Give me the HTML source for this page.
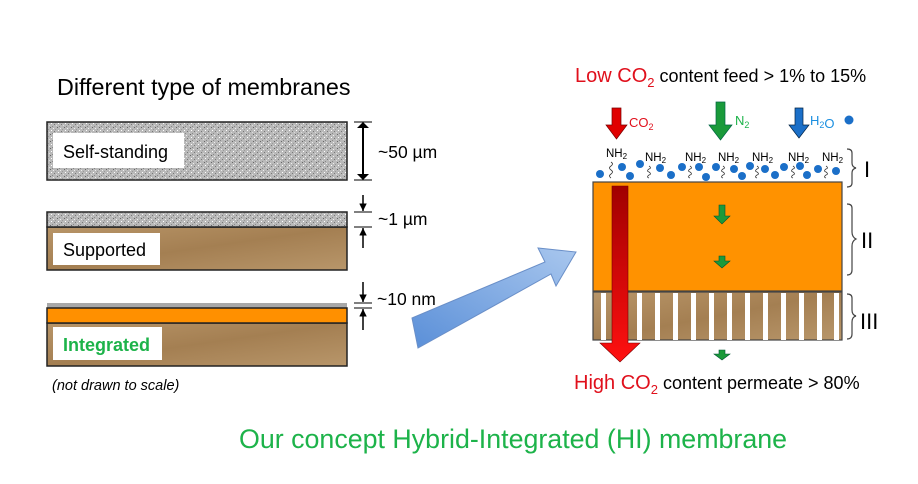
<!DOCTYPE html>
<html><head><meta charset="utf-8"><style>body{margin:0;background:#fff}svg{display:block}text{font-family:"Liberation Sans",sans-serif}</style></head><body>
<svg width="918" height="484" viewBox="0 0 918 484" xmlns="http://www.w3.org/2000/svg">
<defs>
<pattern id="gp" width="7" height="7" patternUnits="userSpaceOnUse">
<rect width="7" height="7" fill="#b9b9b9"/>
<rect x="1" y="1" width="1" height="1" fill="#666"/><rect x="4" y="2" width="1" height="1" fill="#eee"/><rect x="2" y="4" width="1" height="1" fill="#fff"/><rect x="5" y="5" width="1" height="1" fill="#777"/><rect x="0" y="6" width="1" height="1" fill="#ddd"/><rect x="3" y="0" width="1" height="1" fill="#888"/><rect x="6" y="3" width="1" height="1" fill="#999"/>
</pattern>
<linearGradient id="br" x1="0" y1="0" x2="1" y2="1"><stop offset="0" stop-color="#b89568"/><stop offset="0.5" stop-color="#a47f52"/><stop offset="1" stop-color="#b8966a"/></linearGradient>
<linearGradient id="red" x1="0" y1="0" x2="0" y2="1"><stop offset="0" stop-color="#a00000"/><stop offset="1" stop-color="#ff1010"/></linearGradient>
<linearGradient id="bl" x1="0" y1="1" x2="1" y2="0"><stop offset="0" stop-color="#5a8fd8"/><stop offset="1" stop-color="#a9c7ee"/></linearGradient>
<marker id="ah" viewBox="0 0 10 10" refX="10" refY="5" markerWidth="5" markerHeight="5" orient="auto"><path d="M0,0L10,5L0,10z" fill="#000"/></marker>
</defs>
<text x="57" y="95" font-size="23.3">Different type of membranes</text>
<!-- self-standing -->
<rect x="47" y="122" width="300" height="58" fill="url(#gp)" stroke="#222" stroke-width="1.5"/>
<rect x="53" y="133" width="131" height="35" fill="#fff"/>
<text x="63" y="158" font-size="18">Self-standing</text>
<line x1="363" y1="123" x2="363" y2="179" stroke="#000" stroke-width="2"/>
<path d="M357,128L363,122L369,128z M357,174L363,180L369,174z" fill="#000"/>
<line x1="354" y1="122" x2="372" y2="122" stroke="#000"/><line x1="354" y1="180" x2="372" y2="180" stroke="#000"/>
<text x="378" y="158" font-size="17.5">~50 µm</text>
<!-- supported -->
<rect x="47" y="227" width="300" height="43" fill="url(#br)" stroke="#222" stroke-width="1.5"/>
<rect x="47" y="212" width="300" height="15" fill="url(#gp)" stroke="#222" stroke-width="1.5"/>
<rect x="53" y="233" width="107" height="32" fill="#fff"/>
<text x="63" y="256" font-size="18">Supported</text>
<line x1="354" y1="212" x2="372" y2="212" stroke="#000"/><line x1="354" y1="227" x2="372" y2="227" stroke="#000"/>
<line x1="363" y1="195" x2="363" y2="211" stroke="#000" stroke-width="1.5" marker-end="url(#ah)"/>
<line x1="363" y1="248" x2="363" y2="228" stroke="#000" stroke-width="1.5" marker-end="url(#ah)"/>
<text x="378" y="225" font-size="17.5">~1 µm</text>
<!-- integrated -->
<rect x="47" y="303" width="300" height="5" fill="#a8a8a8"/>
<rect x="47" y="323" width="300" height="43" fill="url(#br)" stroke="#222" stroke-width="1.5"/>
<rect x="47" y="308" width="300" height="15" fill="#ff9000" stroke="#222" stroke-width="1.5"/>
<rect x="53" y="327" width="109" height="33" fill="#fff"/>
<text x="63" y="351" font-size="18" font-weight="bold" fill="#1db34a">Integrated</text>
<line x1="354" y1="303" x2="372" y2="303" stroke="#000"/><line x1="354" y1="308" x2="372" y2="308" stroke="#000"/>
<line x1="363" y1="282" x2="363" y2="302" stroke="#000" stroke-width="1.5" marker-end="url(#ah)"/>
<line x1="363" y1="330" x2="363" y2="309" stroke="#000" stroke-width="1.5" marker-end="url(#ah)"/>
<text x="377" y="305" font-size="17.5">~10 nm</text>
<text x="52" y="390" font-size="14.5" font-style="italic">(not drawn to scale)</text>
<!-- big blue arrow -->
<path d="M412,318 L545,262 L538,248 L576,252 L556,286 L551,274 L418,348 z" fill="url(#bl)" stroke="#6a8fc8" stroke-width="1"/>
<!-- right -->
<text x="575" y="82" font-size="20"><tspan fill="#e0101c">Low CO</tspan><tspan fill="#e0101c" font-size="13" dy="5">2</tspan><tspan dy="-5" font-size="18"> content feed &gt; 1% to 15%</tspan></text>
<path d="M612,108h9v17h6l-10.5,14l-10.5,-14h6z" fill="#e00000" stroke="#700" stroke-width="0.7"/>
<text x="629" y="127" font-size="13" fill="#e0101c">CO<tspan font-size="9" dy="3">2</tspan></text>
<path d="M716,102h9v23h7l-11.5,15l-11.5,-15h7z" fill="#1a9a3a" stroke="#064" stroke-width="0.7"/>
<text x="735" y="125" font-size="13" fill="#1db34a">N<tspan font-size="9" dy="3">2</tspan></text>
<path d="M795,108h8v17h6l-10,13l-10,-13h6z" fill="#1b6fc8" stroke="#024" stroke-width="0.7"/>
<text x="810" y="125" font-size="13" fill="#1b8fe0">H<tspan font-size="9" dy="3">2</tspan>O</text>
<circle cx="849" cy="120" r="4.5" fill="#1b6fc8"/>
<g font-size="11.5">
<text x="606" y="157">NH<tspan font-size="8" dy="2">2</tspan></text>
<text x="645" y="161">NH<tspan font-size="8" dy="2">2</tspan></text>
<text x="685" y="161">NH<tspan font-size="8" dy="2">2</tspan></text>
<text x="718" y="161">NH<tspan font-size="8" dy="2">2</tspan></text>
<text x="752" y="161">NH<tspan font-size="8" dy="2">2</tspan></text>
<text x="788" y="161">NH<tspan font-size="8" dy="2">2</tspan></text>
<text x="822" y="161">NH<tspan font-size="8" dy="2">2</tspan></text>
</g>
<g stroke="#333" fill="none" stroke-width="0.8">
<path d="M611,162q3,2 0,4q-3,2 0,4q3,2 0,4q-3,2 0,4"/><path d="M649,166q3,2 0,3q-3,2 0,3q3,2 0,3q-3,2 0,3"/><path d="M690,166q3,2 0,3q-3,2 0,3q3,2 0,3q-3,2 0,3"/><path d="M723,166q3,2 0,3q-3,2 0,3q3,2 0,3q-3,2 0,3"/><path d="M757,166q3,2 0,3q-3,2 0,3q3,2 0,3q-3,2 0,3"/><path d="M793,166q3,2 0,3q-3,2 0,3q3,2 0,3q-3,2 0,3"/><path d="M826,166q3,2 0,3q-3,2 0,3q3,2 0,3q-3,2 0,3"/>
</g>
<g fill="#1b6fc8">
<circle cx="600" cy="174" r="4"/><circle cx="622" cy="167" r="4"/><circle cx="630" cy="176" r="4"/><circle cx="640" cy="164" r="4"/><circle cx="660" cy="168" r="4"/><circle cx="671" cy="175" r="4"/><circle cx="682" cy="167" r="4"/><circle cx="699" cy="167" r="4"/><circle cx="706" cy="177" r="4"/><circle cx="716" cy="167" r="4"/><circle cx="734" cy="169" r="4"/><circle cx="742" cy="176" r="4"/><circle cx="750" cy="166" r="4"/><circle cx="765" cy="169" r="4"/><circle cx="775" cy="175" r="4"/><circle cx="784" cy="167" r="4"/><circle cx="800" cy="166" r="4"/><circle cx="807" cy="175" r="4"/><circle cx="818" cy="169" r="4"/><circle cx="836" cy="171" r="4"/>
</g>
<rect x="593" y="182" width="249" height="109" fill="#ff9200" stroke="#444" stroke-width="1.2"/>
<rect x="593" y="292" width="249" height="48" fill="url(#br)" stroke="#444" stroke-width="1.2"/>
<g fill="#fff">
<rect x="601" y="293" width="5" height="47"/><rect x="619" y="293" width="5" height="47"/><rect x="637" y="293" width="5" height="47"/><rect x="655" y="293" width="5" height="47"/><rect x="673" y="293" width="5" height="47"/><rect x="691" y="293" width="5" height="47"/><rect x="709" y="293" width="5" height="47"/><rect x="727" y="293" width="5" height="47"/><rect x="745" y="293" width="5" height="47"/><rect x="763" y="293" width="5" height="47"/><rect x="781" y="293" width="5" height="47"/><rect x="799" y="293" width="5" height="47"/><rect x="817" y="293" width="5" height="47"/><rect x="834" y="293" width="5" height="47"/>
</g>
<path d="M612,186h16v157h12l-20,19l-20,-19h12z" fill="url(#red)" stroke="#700" stroke-width="0.6"/>
<path d="M719,205h6v11h5l-8,8l-8,-8h5z" fill="#1a9a3a" stroke="#053" stroke-width="0.6"/>
<path d="M719,256h6v5h5l-8,7l-8,-7h5z" fill="#1a9a3a" stroke="#053" stroke-width="0.6"/>
<path d="M719,350h6v4h5l-8,6l-8,-6h5z" fill="#1a9a3a" stroke="#053" stroke-width="0.6"/>
<g stroke="#444" fill="none" stroke-width="1.2">
<path d="M847,149q5,0 5,4v10q0,4 4,5q-4,1 -4,5v10q0,4 -5,4"/>
<path d="M847,204q5,0 5,4v24q0,5 4,7q-4,2 -4,7v24q0,5 -5,5"/>
<path d="M847,294q5,0 5,4v12q0,5 4,6q-4,1 -4,6v12q0,5 -5,5"/>
</g>
<text x="864" y="177" font-size="22">I</text>
<text x="861" y="248" font-size="22">II</text>
<text x="860" y="329" font-size="22">III</text>
<text x="574" y="389" font-size="20"><tspan fill="#e0101c">High CO</tspan><tspan fill="#e0101c" font-size="13" dy="5">2</tspan><tspan dy="-5" font-size="18"> content permeate &gt; 80%</tspan></text>
<text x="239" y="448" font-size="26.8" fill="#1db34a">Our concept Hybrid-Integrated (HI) membrane</text>
</svg>
</body></html>
